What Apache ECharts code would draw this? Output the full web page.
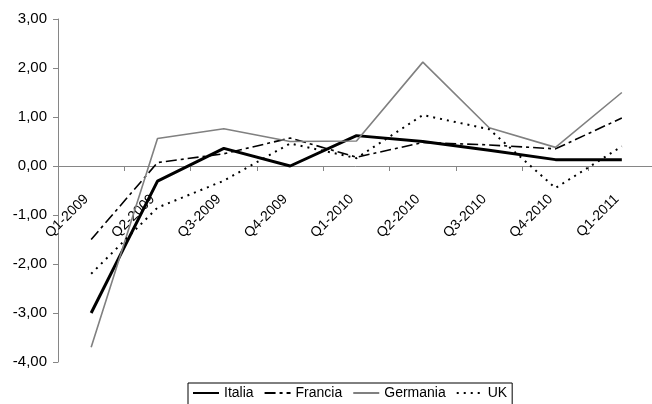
<!DOCTYPE html>
<html>
<head>
<meta charset="utf-8">
<script src="https://cdn.jsdelivr.net/npm/echarts@6/dist/echarts.min.js"></script>
<style>
  html, body { margin: 0; padding: 0; background: #fff; }
  #chart { width: 652px; height: 404px; }
</style>
</head>
<body>
<div id="chart"></div>
<script>
// Quarterly GDP growth (%), 2009-2011
const quarters = ['Q1-2009', 'Q2-2009', 'Q3-2009', 'Q4-2009', 'Q1-2010', 'Q2-2010', 'Q3-2010', 'Q4-2010', 'Q1-2011'];
const italia   = [-3.00, -0.31, 0.36, 0.00, 0.62, 0.50, 0.32, 0.13, 0.13];
const francia  = [-1.50, 0.07, 0.25, 0.57, 0.18, 0.48, 0.43, 0.35, 0.98];
const germania = [-3.70, 0.56, 0.76, 0.50, 0.51, 2.12, 0.78, 0.38, 1.50];
const uk       = [-2.20, -0.85, -0.30, 0.46, 0.16, 1.04, 0.75, -0.45, 0.40];
const yMin = -4, yMax = 3, yStep = 1;

const FONT = 'Liberation Sans, Arial, sans-serif';
const AXIS_GREY = '#868686';

const chart = echarts.init(document.getElementById('chart'), null, { renderer: 'canvas' });

function lineSeries(name, data, color, width, dash) {
  return {
    name: name,
    type: 'line',
    data: data,
    symbol: 'none',
    animation: false,
    itemStyle: { color: color },
    lineStyle: { color: color, width: width, type: dash || 'solid', cap: 'butt' }
  };
}

chart.setOption({
  backgroundColor: '#ffffff',
  animation: false,
  grid: { left: 58, right: -3, top: 19, bottom: 42, containLabel: false, outerBoundsMode: 'none' },
  xAxis: {
    type: 'category',
    data: quarters,
    boundaryGap: true,
    axisLine: { onZero: true, lineStyle: { color: AXIS_GREY, width: 1 } },
    axisTick: { show: true, length: 5, inside: false, lineStyle: { color: AXIS_GREY } },
    // category names sit just under the zero line, slanted at 45 degrees
    axisLabel: {
      rotate: 45, margin: -170, padding: [0, 7, 0, 0],
      color: '#000', fontFamily: FONT, fontSize: 14, interval: 0, hideOverlap: false
    },
    splitLine: { show: false }
  },
  yAxis: {
    type: 'value',
    min: yMin,
    max: yMax,
    interval: yStep,
    axisLine: { show: true, lineStyle: { color: AXIS_GREY, width: 1 } },
    axisTick: { show: true, length: 5, lineStyle: { color: AXIS_GREY } },
    axisLabel: {
      margin: 11,
      color: '#000',
      fontFamily: FONT,
      fontSize: 15,
      formatter: v => v.toFixed(2).replace('.', ',')
    },
    splitLine: { show: false }
  },
  legend: {
    left: 188,
    top: 383,
    orient: 'horizontal',
    borderColor: '#000',
    borderWidth: 1,
    padding: [3, 5, 6, 4],
    itemGap: 10,
    itemWidth: 26,
    itemHeight: 12,
    itemStyle: { opacity: 0 },
    textStyle: { color: '#000', fontFamily: FONT, fontSize: 14 },
    data: ['Italia', 'Francia', 'Germania', 'UK']
  },
  series: [
    lineSeries('Italia', italia, '#000000', 3),
    lineSeries('Francia', francia, '#000000', 1.6, [11, 4, 3, 4]),
    lineSeries('Germania', germania, '#808080', 1.6),
    lineSeries('UK', uk, '#000000', 2, [2, 5])
  ]
});
</script>
</body>
</html>
